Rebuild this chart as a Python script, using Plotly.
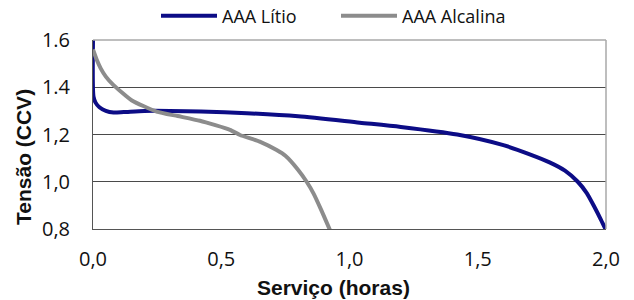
import plotly.graph_objects as go

# Lithium AAA discharge curve (hours, volts)
lithium_hours = [0.0, 0.002, 0.01, 0.025, 0.05, 0.08, 0.12, 0.2, 0.3, 0.42, 0.6, 0.8,
                 1.04, 1.2, 1.42, 1.6, 1.70, 1.78, 1.84, 1.89, 1.925, 1.955, 1.98, 2.0]
lithium_volts = [1.60, 1.36, 1.335, 1.315, 1.300, 1.293, 1.295, 1.300, 1.300, 1.297, 1.290, 1.277,
                 1.250, 1.232, 1.200, 1.155, 1.117, 1.082, 1.047, 1.000, 0.952, 0.893, 0.840, 0.795]

# Alkaline AAA discharge curve (hours, volts)
alkaline_hours = [0.0, 0.015, 0.03, 0.05, 0.079, 0.15, 0.248, 0.33, 0.417, 0.534, 0.573,
                  0.65, 0.716, 0.75, 0.80, 0.833, 0.86, 0.89, 0.924]
alkaline_volts = [1.56, 1.515, 1.48, 1.445, 1.41, 1.345, 1.297, 1.278, 1.258, 1.220, 1.198,
                  1.170, 1.134, 1.110, 1.050, 1.000, 0.950, 0.880, 0.795]

x_tick_vals = [0.0, 0.5, 1.0, 1.5, 2.0]
x_tick_text = ["0,0", "0,5", "1,0", "1,5", "2,0"]
y_tick_vals = [0.8, 1.0, 1.2, 1.4, 1.6]
y_tick_text = ["0,8", "1,0", "1,2", "1.4", "1.6"]

fig = go.Figure()
fig.add_trace(go.Scatter(x=lithium_hours, y=lithium_volts, mode="lines", name="AAA Lítio",
                         line=dict(color="#0c0c86", width=4, shape="spline", smoothing=0.7)))
fig.add_trace(go.Scatter(x=alkaline_hours, y=alkaline_volts, mode="lines", name="AAA Alcalina",
                         line=dict(color="#8c8c8c", width=4, shape="spline", smoothing=0.5)))

tick_font = dict(family="Open Sans", size=20, color="#111111")
title_font = dict(family="Liberation Sans", size=21, color="#111111")

PL, PR, PT, PB = 93, 606, 40, 229  # plot area in pixels

fig.update_layout(
    width=634, height=300,
    margin=dict(l=PL, r=634 - PR, t=PT, b=300 - PB, autoexpand=False),
    paper_bgcolor="white", plot_bgcolor="white",
    showlegend=True,
    legend=dict(orientation="h", xref="paper", yref="paper",
                x=(156 - PL) / (PR - PL), y=(PB - 16) / (PB - PT), xanchor="left", yanchor="middle",
                font=dict(family="Open Sans", size=18, color="#111111"),
                entrywidth=109, itemwidth=56, bgcolor="rgba(0,0,0,0)"),
    xaxis=dict(range=[0, 2], tickvals=x_tick_vals, ticktext=x_tick_text, automargin=False,
               showgrid=False, zeroline=False, showline=True, linecolor="#555555", linewidth=1,
               ticks="", ticklabelstandoff=12, tickfont=tick_font),
    yaxis=dict(range=[0.8, 1.6], tickvals=y_tick_vals, ticktext=y_tick_text, automargin=False,
               showgrid=True, gridcolor="#4a4a4a", gridwidth=1, zeroline=False,
               showline=True, linecolor="#555555", linewidth=1,
               ticks="", ticklabelstandoff=18, tickfont=tick_font),
    annotations=[
        dict(text="<b>Tensão (CCV)</b>", textangle=-90, xref="paper", yref="paper",
             x=(23 - PL) / (PR - PL), y=(PB - 157) / (PB - PT), xanchor="center", yanchor="middle",
             showarrow=False, font=title_font),
        dict(text="<b>Serviço (horas)</b>", xref="paper", yref="paper",
             x=(333 - PL) / (PR - PL), y=(PB - 287) / (PB - PT), xanchor="center", yanchor="middle",
             showarrow=False, font=title_font),
    ],
    shapes=[dict(type="line", xref="paper", yref="paper", x0=0, x1=1, y0=1, y1=1,
                 line=dict(color="#a8a8a8", width=1.5), layer="above"),
            dict(type="line", xref="paper", yref="paper", x0=1, x1=1, y0=0, y1=1,
                 line=dict(color="#a8a8a8", width=1.5), layer="above")],
)

fig.write_html("out.html", config={"displayModeBar": False},
               post_script="document.body.style.margin='0';document.body.style.overflow='hidden';")
